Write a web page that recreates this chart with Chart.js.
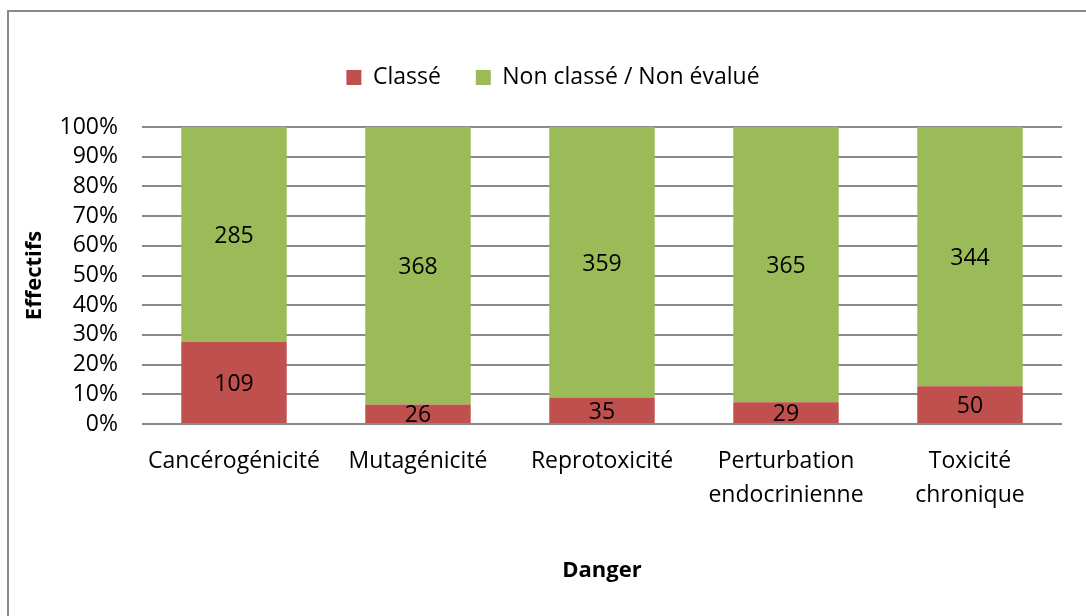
<!DOCTYPE html>
<html>
<head>
<meta charset="utf-8">
<script src="https://cdn.jsdelivr.net/npm/chart.js"></script>
<style>
  html, body { margin: 0; padding: 0; background: #fff; overflow: hidden; }
  #frame { position: absolute; left: 7px; top: 10px; width: 1100px; height: 620px;
           border-top: 2px solid #898989; border-left: 2px solid #898989; }
  #danger { position: absolute; left: 0; top: 0; }
</style>
</head>
<body>
<div id="frame"></div>
<canvas id="danger" width="1086" height="616"></canvas>
<script>
// categories and counts
const categories = ['Cancérogénicité', 'Mutagénicité', 'Reprotoxicité',
  ['Perturbation', 'endocrinienne'], ['Toxicité', 'chronique']];
const classe = [109, 26, 35, 29, 50];
const nonClasse = [285, 368, 359, 365, 344];
const yTicks = [0, 10, 20, 30, 40, 50, 60, 70, 80, 90, 100];

// 100% stacked: turn counts into shares of each column
const totals = classe.map((v, i) => v + nonClasse[i]);
const pct = arr => arr.map((v, i) => v / totals[i] * 100);

const FONT = "'Open Sans', sans-serif";

// writes the raw count in the middle of every bar piece
const countLabels = {
  id: 'countLabels',
  afterDatasetsDraw(chart) {
    const ctx = chart.ctx;
    ctx.save();
    ctx.font = '23px ' + FONT;
    ctx.fillStyle = '#000';
    ctx.textAlign = 'center';
    ctx.textBaseline = 'middle';
    chart.data.datasets.forEach((ds, di) => {
      chart.getDatasetMeta(di).data.forEach((bar, i) => {
        const mid = (bar.y + bar.base) / 2;
        ctx.fillText(ds.counts[i], bar.x, mid + 2);
      });
    });
    ctx.restore();
  }
};

var ctx = document.getElementById('danger').getContext('2d');
var myChart = new Chart(ctx, {
  type: 'bar',
  data: {
    labels: categories,
    datasets: [{
      label: 'Classé',
      data: pct(classe),
      counts: classe,
      backgroundColor: '#C0504D',
      categoryPercentage: 1,
      barPercentage: 0.573
    }, {
      label: 'Non classé / Non évalué',
      data: pct(nonClasse),
      counts: nonClasse,
      backgroundColor: '#9BBB59',
      categoryPercentage: 1,
      barPercentage: 0.573
    }]
  },
  options: {
    responsive: false,
    animation: false,
    layout: { padding: { left: 4, right: 24, top: 31, bottom: 24 } },
    plugins: {
      legend: {
        position: 'top',
        labels: {
          boxWidth: 15, boxHeight: 15, padding: 35,
          color: '#000', font: { family: FONT, size: 23 }
        }
      },
      tooltip: { enabled: false }
    },
    scales: {
      x: {
        stacked: true,
        grid: { display: false, drawTicks: false },
        border: { display: false },
        ticks: { color: '#000', padding: 20, maxRotation: 0, autoSkip: false,
                 font: { family: FONT, size: 23, lineHeight: 1.48 } },
        title: { display: true, text: 'Danger', color: '#000',
                 font: { family: FONT, size: 22, weight: 'bold' }, padding: { bottom: 8 } },
        afterFit(s) { s.height = 168; }
      },
      y: {
        stacked: true,
        min: 0, max: 100,
        afterBuildTicks(s) { s.ticks = yTicks.map(v => ({ value: v })); },
        grid: { color: '#8a8a8a', lineWidth: 2, drawTicks: false },
        border: { display: false },
        ticks: { color: '#000', padding: 24, autoSkip: false, callback: v => v + '%',
                 font: { family: FONT, size: 23 } },
        title: { display: true, text: 'Effectifs', color: '#000',
                 font: { family: FONT, size: 22, weight: 'bold' }, padding: { top: 18 } },
        afterFit(s) { s.width = 138; }
      }
    }
  },
  plugins: [countLabels]
});

// leave the same empty band under the legend as the original,
// and nudge the legend right so it sits where the original has it
const fitLegend = myChart.legend.fit;
myChart.legend.fit = function () { fitLegend.call(this); this.height += 28; };
const drawLegend = myChart.legend.draw;
myChart.legend.draw = function (area) {
  this.ctx.save();
  this.ctx.translate(20, 0);
  drawLegend.call(this, area);
  this.ctx.restore();
};
myChart.update();
</script>
</body>
</html>
